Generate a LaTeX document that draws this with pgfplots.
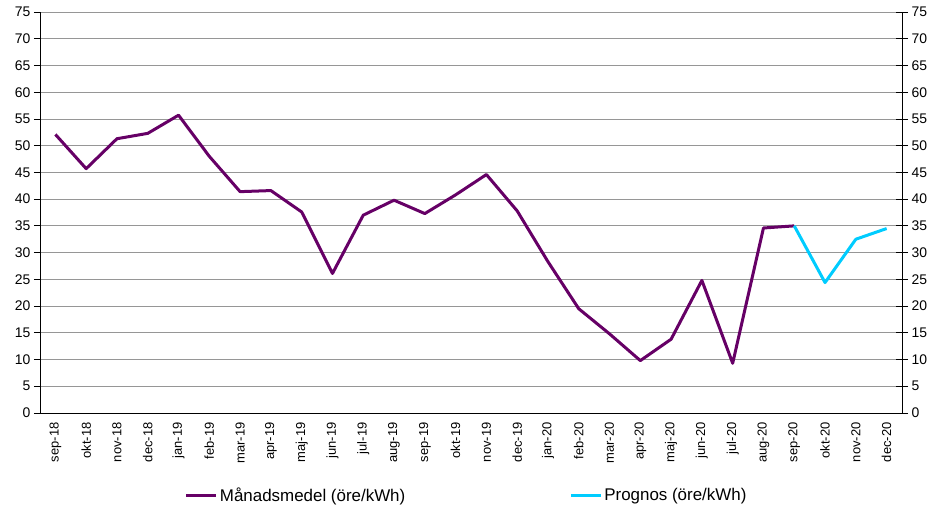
\documentclass[border=0pt]{standalone}
\usepackage{fontspec}
\setmainfont{Liberation Sans}
\usepackage{pgfplots}
\pgfplotsset{compat=1.18}
\definecolor{purp}{RGB}{102,0,102}
\definecolor{cyanline}{RGB}{0,204,255}
\definecolor{gridgray}{RGB}{150,150,150}
\begin{document}
\begin{tikzpicture}
\begin{axis}[
  name=main, at={(0,0)}, anchor=south west,
  scale only axis, width=862bp, height=401bp,
  xmin=-0.5, xmax=27.5, ymin=0, ymax=75,
  axis x line*=bottom, axis y line*=left,
  axis line style={-, black, line width=0.8bp},
  ytick={0,5,...,75},
  ymajorgrids, grid style={color=gridgray, line width=0.8bp},
  xtick={0,...,27},
  xticklabels={sep-18,okt-18,nov-18,dec-18,jan-19,feb-19,mar-19,apr-19,maj-19,jun-19,jul-19,aug-19,sep-19,okt-19,nov-19,dec-19,jan-20,feb-20,mar-20,apr-20,maj-20,jun-20,jul-20,aug-20,sep-20,okt-20,nov-20,dec-20},
  x tick label style={rotate=90, anchor=east, font=\fontsize{13}{14}\selectfont},
  xtick style={draw=none},
  minor xtick={0.5,1.5,...,26.5},
  minor tick length=5bp,
  major tick length=6bp,
  minor x tick style={black, line width=0.8bp},
  ytick style={black, line width=0.8bp},
  tick align=outside,
  y tick label style={font=\fontsize{14}{15}\selectfont},
  /pgf/number format/assume math mode=true,
  legend columns=2,
  legend style={at={(0.495,-0.205)}, anchor=center, draw=none, fill=none,
    font=\fontsize{17}{18}\selectfont,
    /tikz/every even column/.append style={column sep=162bp}},
  legend image code/.code={\draw[#1, line width=3bp] (0bp,0bp) -- (30bp,0bp);},
]
\addplot[purp, line width=3bp, line join=round] coordinates {
(0,52.1) (1,45.7) (2,51.3) (3,52.3) (4,55.7) (5,48.0) (6,41.4) (7,41.6) (8,37.6) (9,26.1)
(10,37.0) (11,39.8) (12,37.3) (13,40.8) (14,44.6) (15,37.8) (16,28.3) (17,19.5) (18,14.8)
(19,9.8) (20,13.8) (21,24.8) (22,9.3) (23,34.6) (24,35.0)};
\addlegendentry{Månadsmedel (öre/kWh)}
\addplot[cyanline, line width=3bp, line join=round] coordinates {
(24,35.0) (25,24.4) (26,32.5) (27,34.5)};
\addlegendentry{Prognos (öre/kWh)}
\end{axis}
\begin{axis}[
  at={(0,0)}, anchor=south west,
  scale only axis, width=862bp, height=401bp,
  xmin=-0.5, xmax=27.5, ymin=0, ymax=75,
  axis x line=none, axis y line*=right,
  axis line style={-, black, line width=0.8bp},
  ytick={0,5,...,75},
  ytick style={black, line width=0.8bp},
  major tick length=12bp,
  tick align=center,
  y tick label style={font=\fontsize{14}{15}\selectfont},
  /pgf/number format/assume math mode=true,
]
\addplot[draw=none] coordinates {(0,0)};
\end{axis}
\pgfresetboundingbox
\path[use as bounding box] (-40bp,-96bp) rectangle (888bp,413bp);
\end{tikzpicture}
\end{document}
